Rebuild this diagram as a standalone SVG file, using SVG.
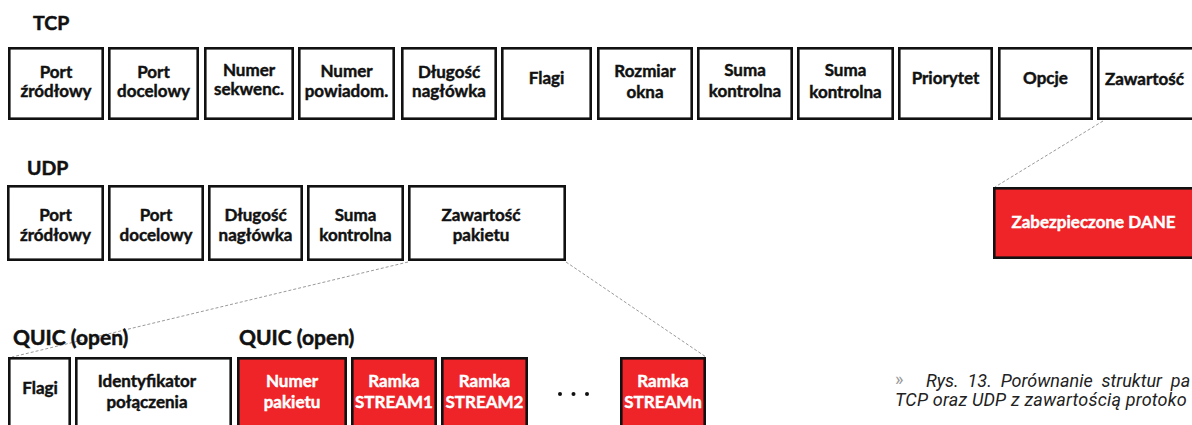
<svg xmlns="http://www.w3.org/2000/svg" width="1192" height="425" viewBox="0 0 1192 425">
<style>
.b{fill:#fff;stroke:#111;stroke-width:2.6}
.r{fill:#ee2428;stroke:#111;stroke-width:2.6}
.t{font-family:Lato,"Open Sans",sans-serif;font-weight:700;font-size:17px;fill:#111;stroke:#111;stroke-width:0.45;text-anchor:middle}
.w{fill:#fff;stroke:#fff}
.h{font-family:Lato,"Open Sans",sans-serif;font-weight:700;fill:#111;stroke:#111;stroke-width:0.5}
.c{fill:none;stroke:#9a9a9a;stroke-width:1;stroke-dasharray:3 2}
.cap{font-family:Roboto,"Liberation Sans",sans-serif;font-style:italic;font-size:18px;fill:#222}
</style>
<rect width="1192" height="425" fill="#fff"/>
<g id="connectors">
<line class="c" x1="1103" y1="121" x2="995" y2="187"/>
<line class="c" x1="408" y1="262" x2="12" y2="357"/>
<line class="c" x1="566" y1="262" x2="706" y2="357"/>
</g>
<g id="labels">
<text class="h" x="33" y="30" font-size="19.5">TCP</text>
<text class="h" x="27" y="175" font-size="19.5">UDP</text>
<text class="h" x="13" y="345" font-size="21">QUIC (open)</text>
<text class="h" x="239" y="345" font-size="21">QUIC (open)</text>
</g>
<g id="tcp">
<g id="tcp1"><rect class="b" x="9.3" y="48.3" width="93.4" height="70.4"/><text class="t" x="56" y="78">Port</text><text class="t" x="56" y="97">źródłowy</text></g>
<g id="tcp2"><rect class="b" x="109.3" y="48.3" width="88.4" height="70.4"/><text class="t" x="153.5" y="78">Port</text><text class="t" x="153.5" y="97">docelowy</text></g>
<g id="tcp3"><rect class="b" x="205.3" y="48.3" width="87.4" height="70.4"/><text class="t" x="249" y="76" font-size="15">Numer</text><text class="t" x="249" y="95" font-size="15">sekwenc.</text></g>
<g id="tcp4"><rect class="b" x="299.3" y="48.3" width="94.4" height="70.4"/><text class="t" x="346.5" y="77">Numer</text><text class="t" x="346.5" y="97" font-size="18">powiadom.</text></g>
<g id="tcp5"><rect class="b" x="402.3" y="48.3" width="93.4" height="70.4"/><text class="t" x="449" y="78">Długość</text><text class="t" x="449" y="97">nagłówka</text></g>
<g id="tcp6"><rect class="b" x="502.3" y="48.3" width="88.4" height="70.4"/><text class="t" x="546.5" y="84">Flagi</text></g>
<g id="tcp7"><rect class="b" x="598.3" y="48.3" width="93.4" height="70.4"/><text class="t" x="645" y="77" font-size="18.5">Rozmiar</text><text class="t" x="645" y="98" font-size="18.5">okna</text></g>
<g id="tcp8"><rect class="b" x="698.3" y="48.3" width="93.4" height="70.4"/><text class="t" x="745" y="76">Suma</text><text class="t" x="745" y="97">kontrolna</text></g>
<g id="tcp9"><rect class="b" x="798.3" y="48.3" width="94.4" height="70.4"/><text class="t" x="845.5" y="76">Suma</text><text class="t" x="845.5" y="98">kontrolna</text></g>
<g id="tcp10"><rect class="b" x="899.3" y="48.3" width="92.4" height="70.4"/><text class="t" x="945.5" y="84" font-size="18.5">Priorytet</text></g>
<g id="tcp11"><rect class="b" x="999.3" y="48.3" width="92.4" height="70.4"/><text class="t" x="1045.5" y="84" font-size="18.5">Opcje</text></g>
<g id="tcp12"><rect class="b" x="1098.3" y="48.3" width="96" height="70.4"/><text class="t" x="1144.5" y="85">Zawartość</text></g>
</g>
<g id="udp">
<g id="udp1"><rect class="b" x="8.3" y="186.3" width="94.4" height="73.4"/><text class="t" x="55.5" y="221">Port</text><text class="t" x="55.5" y="241">źródłowy</text></g>
<g id="udp2"><rect class="b" x="109.3" y="186.3" width="93.4" height="73.4"/><text class="t" x="156" y="221">Port</text><text class="t" x="156" y="241">docelowy</text></g>
<g id="udp3"><rect class="b" x="209.3" y="186.3" width="92.4" height="73.4"/><text class="t" x="255.5" y="221">Długość</text><text class="t" x="255.5" y="241">nagłówka</text></g>
<g id="udp4"><rect class="b" x="308.3" y="186.3" width="94.4" height="73.4"/><text class="t" x="355.5" y="221">Suma</text><text class="t" x="355.5" y="241">kontrolna</text></g>
<g id="udp5"><rect class="b" x="409.3" y="186.3" width="155.4" height="73.4"/><text class="t" x="481" y="221">Zawartość</text><text class="t" x="481" y="241">pakietu</text></g>
</g>
<g id="dane"><rect class="r" x="994.3" y="188.3" width="200" height="69.4"/><text class="t w" x="1093.5" y="228">Zabezpieczone DANE</text></g>
<g id="quic">
<g id="q1"><rect class="b" x="9.3" y="358.3" width="60.4" height="80"/><text class="t" x="40" y="394">Flagi</text></g>
<g id="q2"><rect class="b" x="76.3" y="358.3" width="154.4" height="80"/><text class="t" x="147" y="387">Identyfikator</text><text class="t" x="147" y="408">połączenia</text></g>
<g id="q3"><rect class="r" x="238.3" y="358.3" width="107.4" height="80"/><text class="t w" x="292" y="387">Numer</text><text class="t w" x="292" y="408">pakietu</text></g>
<g id="q4"><rect class="r" x="352.3" y="358.3" width="83.4" height="80"/><text class="t w" x="394" y="387">Ramka</text><text class="t w" x="394" y="408">STREAM1</text></g>
<g id="q5"><rect class="r" x="442.3" y="358.3" width="84.4" height="80"/><text class="t w" x="484.5" y="387">Ramka</text><text class="t w" x="484.5" y="408">STREAM2</text></g>
<g id="dots" fill="#111"><circle cx="560" cy="394" r="2"/><circle cx="573.5" cy="394" r="2"/><circle cx="587" cy="394" r="2"/></g>
<g id="q6"><rect class="r" x="621.3" y="358.3" width="83.4" height="80"/><text class="t w" x="663" y="387">Ramka</text><text class="t w" x="663" y="408">STREAMn</text></g>
</g>
<g id="caption">
<text x="895" y="385" font-family="Roboto,'Liberation Sans',sans-serif" font-size="18" fill="#999">»</text>
<text class="cap" x="926" y="387" word-spacing="4.5">Rys. 13. Porównanie struktur pa</text>
<text class="cap" x="895" y="406" letter-spacing="0.2">TCP oraz UDP z zawartością protoko</text>
</g>
</svg>
